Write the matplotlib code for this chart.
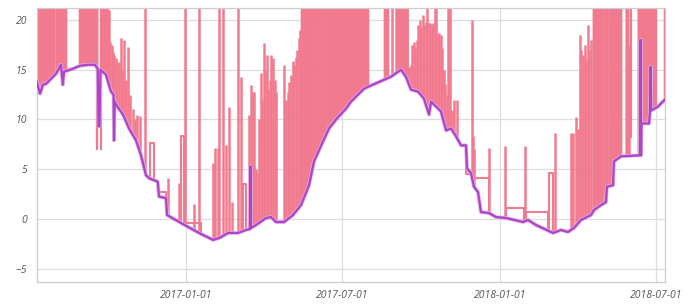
import numpy as np
import pandas as pd
import matplotlib
matplotlib.use("Agg")
import matplotlib.pyplot as plt
import matplotlib.patheffects as pe

START = pd.Timestamp("2016-07-12")
END_DAY = 728.8

# purple line: days since START and value
base_day = [0, 3.8, 7.3, 11, 15.4, 22.4, 28.2, 30.2, 31.7, 42.1, 50.2, 59.5, 67.6, 70.8,
            71.7, 72.8, 74.0, 80.4, 86.2, 89.2, 89.7, 90.4, 92.0, 100.1, 107.1, 115.2,
            121.0, 126.8, 130.3, 140.4, 141.9, 150.0, 151.2, 167.4, 188.3, 204.6, 211.9,
            222.0, 233.5, 242.8, 247.4, 248.0, 248.6, 254.4, 266.0, 271.8, 277.6, 286.9,
            297.3, 306.6, 315.9, 321.7, 332.1, 339.1, 347.2, 358.8, 364.6, 379.7, 411.0,
            422.6, 428.4, 434.2, 442.4, 449.3, 455.1, 457.5, 469.1, 474.9, 480.7, 486.5,
            492.3, 498.1, 499.2, 503.9, 507.3, 512.0, 515.4, 524.7, 532.8, 544.4, 564.2,
            570.0, 579.2, 599.0, 608.2, 616.3, 623.3, 631.4, 643.0, 646.5, 654.6, 660.4,
            661.6, 668.6, 669.7, 677.9, 700.0, 700.5, 701.1, 701.7, 710.4, 711.5, 712.3,
            712.8, 720.8, 728.8]
base_val = [13.8, 12.6, 13.5, 13.6, 14.0, 14.6, 15.5, 13.5, 14.8, 15.1, 15.4, 15.5, 15.5, 15.1,
            9.3, 9.3, 15.0, 14.5, 12.8, 12.5, 7.9, 11.8, 11.5, 10.5, 9.1, 7.9,
            6.4, 4.4, 4.1, 3.75, 2.25, 2.1, 0.4, -0.4, -1.4, -2.1, -1.9,
            -1.4, -1.4, -1.1, -1.0, 5.3, -0.9, -0.6, 0.1, 0.2, -0.3, -0.3,
            0.4, 1.4, 3.4, 5.8, 7.8, 9.1, 10.0, 11.1, 11.8, 13.1, 14.3,
            15.0, 14.3, 13.0, 12.8, 12.1, 10.5, 11.8, 10.8, 8.9, 9.1, 8.3,
            7.4, 7.4, 5.1, 4.6, 3.25, 2.7, 0.7, 0.6, 0.2, 0.1, -0.3,
            -0.1, -0.6, -1.4, -1.1, -1.3, -0.9, -0.1, 0.4, 0.9, 1.4, 1.7,
            3.25, 3.4, 5.8, 6.3, 6.4, 18.0, 6.4, 9.6, 9.6, 10.8, 15.3,
            10.9, 11.3, 12.0]

# pink spikes rising from the purple line
spike_day = [20.6, 83.3, 85.0, 86.8, 88.5, 90.2, 92.0, 93.7, 95.5, 97.2, 98.9, 101.3, 103.6,
             105.9, 108.2, 111.7, 114.0, 116.3, 119.8, 125.6, 152.0, 165.1, 172.4, 182.5,
             188.3, 204.2, 206.8, 210.0, 211.5, 215.8, 219.6, 223.1, 226.2, 233.9, 237.0,
             246.3, 248.6, 250.9, 252.6, 254.4, 256.7, 258.4, 260.2, 261.9, 263.7, 265.4,
             267.1, 268.9, 270.6, 271.8, 273.8, 275.9, 277.6, 286.9, 289.2, 291.5, 293.2,
             295.0, 297.0, 299.0, 300.8, 302.5, 304.3, 305.4, 412.7, 430.7, 432.4, 434.2,
             435.9, 437.7, 439.4, 441.1, 442.9, 444.6, 446.4, 448.1, 449.8, 451.6, 453.3,
             455.1, 456.8, 458.5, 460.3, 462.0, 463.8, 465.5, 467.2, 469.0, 470.7, 472.5,
             474.2, 475.9, 477.7, 479.4, 481.7, 484.1, 487.2, 504.6, 506.1, 507.8, 524.7,
             543.2, 566.4, 601.2, 619.8, 622.1, 625.6, 627.9, 630.2, 632.0, 633.7, 636.0,
             637.8, 639.5, 641.3, 643.0, 687.6]
spike_top = [25, 21, 17.8, 17.5, 16.8, 16.5, 16.2, 15.8, 15.8, 18.2, 15.0, 18.0, 14.0,
             17.3, 12.5, 11.1, 10.0, 10.4, 10.3, 25, 4.1, 3.6, 25, 1.5,
             25, 5.6, 7.1, 7.1, 25, 25, 7.4, 11.3, 1.7, 25, 14.3,
             10.5, 13.5, 12.8, 12.8, 5.0, 4.6, 10.0, 14.7, 12.0, 17.7, 15.0,
             16.5, 13.1, 14.0, 16.5, 16.2, 14.0, 12.8, 15.5, 12.0, 12.8, 13.8,
             14.5, 15.9, 15.5, 16.3, 17.0, 18.2, 19.0, 25, 15.3, 15.3, 15.5,
             17.5, 17.8, 17.2, 18.0, 19.5, 20.0, 19.2, 20.5, 19.5, 19.8, 25,
             19.7, 19.7, 19.5, 19.7, 25, 25, 18.7, 18.7, 18.5, 17.2, 15.0,
             13.6, 12.5, 25, 25, 11.0, 12.0, 12.0, 20.0, 8.3, 7.0, 7.1,
             7.3, 7.3, 8.6, 8.6, 8.6, 10.2, 9.0, 18.5, 17.0, 16.5, 17.5,
             16.0, 19.5, 17.0, 18.0, 17.5]

# pink drops that stay above the purple line
drop_day = [70.5, 74.6, 690.0, 699.3]
drop_lo = [6.9, 6.9, 8.1, 9.4]
drop_hi = [25, 25, 25, 25]

# dense pink periods, going past the top of the chart
band_start = [0, 22.4, 49.1, 75.2, 306.6, 321.1, 336.2, 402.9, 416.4, 645.3, 657.5, 663.3,
              683.4, 697.4, 727.8]
band_end = [18.9, 34.0, 70.0, 82.7, 319.9, 335.0, 384.3, 407.5, 430.3, 655.8, 661.6, 677.9,
            686.3, 718.3, 728.8]
band_top = 25

# pink flat stretches above the purple line
plateau_start = [131.6, 140.4, 167.4, 167.4, 239.3, 498.1, 507.3, 544.4, 567.6, 594.3]
plateau_end = [136.2, 150.0, 170.9, 190.6, 242.8, 503.9, 524.7, 565.4, 593.1, 599.0]
plateau_val = [7.6, 2.7, 8.3, -0.4, 3.5, 4.5, 4.1, 1.1, 0.7, 4.6]

x_ticks = ["2017-01-01", "2017-07-01", "2018-01-01", "2018-07-01"]
y_ticks = [-5, 0, 5, 10, 15, 20]

PINK = "#f27a8e"
PURPLE = "#b043c6"

bd = np.array(base_day)
bv = np.array(base_val)


def to_date(d):
    return (START + pd.to_timedelta(np.atleast_1d(np.asarray(d, dtype=float)), unit="D")).values


def foot(d):
    return np.interp(d, bd, bv)


fig = plt.figure(figsize=(6.89, 3.08), dpi=100)
ax = fig.add_axes([0.0533, 0.0844, 0.9117, 0.8896])

for s, e in zip(band_start, band_end):
    inner = bd[(bd > s) & (bd < e)]
    xs = np.r_[s, inner, e]
    ax.fill_between(to_date(xs), foot(xs), band_top, color=PINK, lw=1.2,
                    edgecolor=PINK, zorder=2)

sd = np.array(spike_day)
ax.vlines(to_date(sd), foot(sd), spike_top, color=PINK, lw=1.8, zorder=2)
ax.vlines(to_date(drop_day), drop_lo, drop_hi, color=PINK, lw=1.6, zorder=2)

for s, e, v in zip(plateau_start, plateau_end, plateau_val):
    xs = np.array([s, s, e, e])
    ys = [foot(s), v, v, foot(e)]
    ax.plot(to_date(xs), ys, color=PINK, lw=1.5, zorder=2)

ax.plot(to_date(bd), bv, color=PURPLE, lw=1.6, zorder=3,
        path_effects=[pe.Stroke(linewidth=2.7, foreground="#dcb0e6"), pe.Normal()])

ax.set_xlim(to_date(0)[0], to_date(END_DAY)[0])
ax.set_ylim(-6.33, 21.2)
ax.set_xticks(pd.to_datetime(x_ticks).values)
ax.set_xticklabels(x_ticks)
ax.set_yticks(y_ticks)
ax.grid(True, color="#dddddd", lw=0.9)
ax.set_axisbelow(True)
for sp in ax.spines.values():
    sp.set_color("#cccccc")
    sp.set_linewidth(0.9)
ax.tick_params(length=0, colors="#555555", labelsize=7.5)
ax.tick_params(axis="x", pad=6)
ax.tick_params(axis="y", pad=7)
for lab in ax.get_xticklabels() + ax.get_yticklabels():
    lab.set_fontfamily(["Open Sans", "DejaVu Sans"])
    lab.set_fontstyle("italic")

fig.savefig("out.png", dpi=100)
